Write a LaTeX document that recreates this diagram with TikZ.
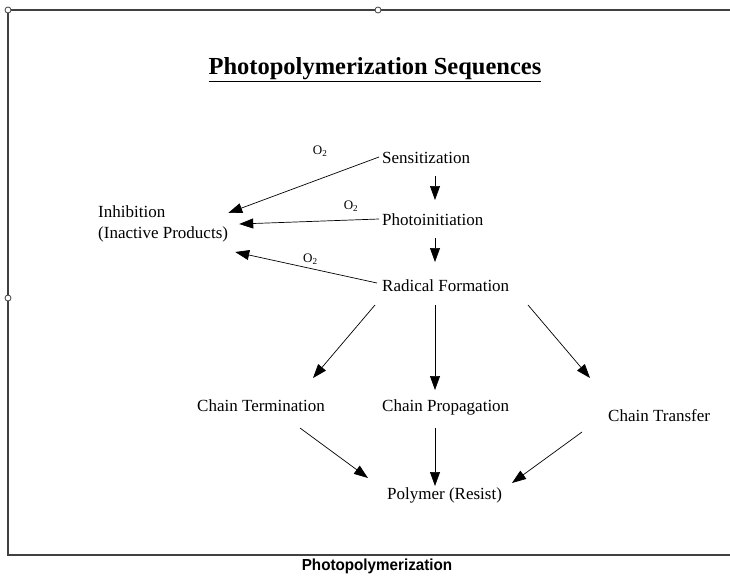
\documentclass[tikz,border=0pt]{standalone}
\usepackage{fontspec}
\setmainfont{Liberation Serif}
\newfontfamily\capfont{Liberation Sans}
\usetikzlibrary{arrows.meta, positioning}

\begin{document}
\begin{tikzpicture}[x=1pt, y=-1pt,
            stage/.style={inner sep=0pt, anchor=west, text height=13pt, text depth=0.5pt, font=\fontsize{17}{21}\selectfont},
            oxy/.style={inner sep=0pt, font=\fontsize{13}{15}\selectfont},
            arr/.style={-{Triangle[length=14pt, width=10pt]}, line width=0.7pt},
            frameline/.style={draw=black!75, line width=1.3pt},
            handle/.style={circle, draw=black!75, fill=white, line width=0.8pt, inner sep=0pt, minimum size=6pt}
        ]

        \useasboundingbox (0,0) rectangle (730,576);

        % Rahmen
        \draw[frameline] (730,10) -- (8,10) -- (8,555) -- (730,555);
        \node[handle] (h1) at (8,10) {};
        \node[handle] (h2) at (378,10) {};
        \node[handle] (h3) at (8,298) {};

        % Titel
        \node[font=\fontsize{24.5}{28}\selectfont\bfseries] (title) at (375,70) {\underline{Photopolymerization Sequences}};

        % Knoten
        \node[stage] (sens) at (382,157) {Sensitization};
        \node[stage] (photo) at (382,219) {Photoinitiation};
        \node[stage] (rad) at (382,285) {Radical Formation};
        \node[stage, align=left, text height=, text depth=] (inhib) at (98,224) {Inhibition\\(Inactive Products)};
        \node[stage] (term) at (197,405) {Chain Termination};
        \node[stage] (prop) at (382,405) {Chain Propagation};
        \node[stage] (trans) at (608,415) {Chain Transfer};
        \node[stage] (poly) at (387,493) {Polymer (Resist)};

        % Kanten
        \draw[arr] ([xshift=-3pt]sens.west) -- ([yshift=11pt]inhib.east) node[oxy, pos=0.39, above=22pt] (o2a) {O\textsubscript{2}};
        \draw[arr] ([xshift=-3pt]photo.west) -- ([xshift=11pt]inhib.east) node[oxy, pos=0.2, above=8pt] (o2b) {O\textsubscript{2}};
        \draw[arr] ([xshift=-5pt, yshift=2pt]rad.west) -- ([xshift=7pt, yshift=-28pt]inhib.east) node[oxy, pos=0.47, above=4pt] (o2c) {O\textsubscript{2}};

        \draw[arr] ([xshift=53pt, yshift=-19pt]sens.west) -- ([xshift=53pt, yshift=19pt]photo.west);
        \draw[arr] ([xshift=53pt, yshift=-19pt]photo.west) -- ([xshift=53pt, yshift=23pt]rad.west);

        \draw[arr] ([xshift=-7pt, yshift=-20pt]rad.west) -- ([xshift=116pt, yshift=27pt]term.west);
        \draw[arr] ([xshift=53pt, yshift=-20pt]rad.west) -- ([xshift=53pt, yshift=15pt]prop.west);
        \draw[arr] ([xshift=146pt, yshift=-20pt]rad.west) -- ([xshift=-18pt, yshift=37pt]trans.west);

        \draw[arr] ([xshift=103pt, yshift=-23pt]term.west) -- ([xshift=-19pt, yshift=15pt]poly.west);
        \draw[arr] ([xshift=53pt, yshift=-23pt]prop.west) -- ([xshift=48pt, yshift=7pt]poly.west);
        \draw[arr] ([xshift=-26pt, yshift=-17pt]trans.west) -- ([xshift=125pt, yshift=10pt]poly.west);

        % Bildunterschrift
        \node[font=\capfont\bfseries\fontsize{16}{18}\selectfont] (caption) at (377,566) {\scalebox{0.95}[1]{Photopolymerization}};

    \end{tikzpicture}
\end{document}
